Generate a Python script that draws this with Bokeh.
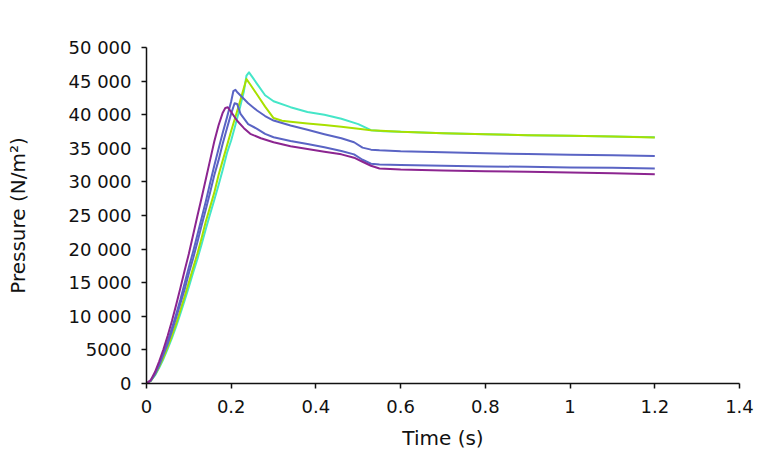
from bokeh.plotting import figure
from bokeh.models import FixedTicker, CustomJSTickFormatter, Range1d
from bokeh.embed import file_html
from bokeh.resources import INLINE

# ---- data ----
t_purple = [0, 0.01, 0.02, 0.03, 0.04, 0.05, 0.06, 0.07, 0.08, 0.09, 0.10, 0.11, 0.12, 0.13,
            0.14, 0.15, 0.16, 0.17, 0.18, 0.186, 0.192, 0.20, 0.214, 0.23, 0.245, 0.27, 0.30, 0.34,
            0.38, 0.42, 0.46, 0.49, 0.51, 0.53, 0.55, 0.60, 0.70, 0.80, 0.90, 1.00, 1.10, 1.20]
p_purple = [0, 500, 1700, 3300, 5100, 7100, 9300, 11700, 14200, 16800, 19300, 22100, 24900, 27600,
            30400, 33200, 36000, 38400, 40300, 41000, 41100, 40400, 39100, 38000, 37150, 36500, 35900, 35300,
            34900, 34500, 34100, 33600, 33000, 32400, 32000, 31850, 31700, 31600, 31500, 31400, 31300, 31150]

t_blue1 = [0, 0.01, 0.02, 0.03, 0.04, 0.05, 0.06, 0.07, 0.08, 0.09, 0.10, 0.11, 0.12, 0.13,
           0.14, 0.15, 0.16, 0.17, 0.18, 0.19, 0.20, 0.205, 0.21, 0.215, 0.222, 0.24, 0.261, 0.28, 0.30,
           0.34, 0.38, 0.42, 0.46, 0.49, 0.51, 0.53, 0.55, 0.60, 0.70, 0.80, 0.90, 1.00, 1.10, 1.20]
p_blue1 = [0, 450, 1450, 2900, 4500, 6300, 8200, 10300, 12500, 14900, 17300, 19600, 22100, 24600,
           27100, 29800, 32400, 34900, 37300, 39600, 42000, 43500, 43700, 43300, 42850, 41700, 40620, 39800, 39130,
           38400, 37750, 37100, 36500, 35900, 35100, 34800, 34700, 34550, 34400, 34250, 34150, 34050, 33950, 33850]

t_blue2 = [0, 0.01, 0.02, 0.03, 0.04, 0.05, 0.06, 0.07, 0.08, 0.09, 0.10, 0.11, 0.12, 0.13,
           0.14, 0.15, 0.16, 0.17, 0.18, 0.19, 0.20, 0.208, 0.214, 0.222, 0.24, 0.261, 0.28, 0.30,
           0.34, 0.38, 0.42, 0.46, 0.49, 0.51, 0.53, 0.55, 0.60, 0.70, 0.80, 0.90, 1.00, 1.10, 1.20]
p_blue2 = [0, 430, 1400, 2700, 4300, 5900, 7800, 9800, 11900, 14000, 16400, 18600, 21000, 23500,
           25900, 28400, 31000, 33200, 35700, 38000, 40200, 41700, 41600, 40120, 38600, 37900, 37150, 36650,
           36100, 35650, 35150, 34600, 34100, 33300, 32700, 32600, 32500, 32400, 32300, 32250, 32150, 32100, 32000]

t_green = [0, 0.01, 0.02, 0.03, 0.04, 0.05, 0.06, 0.07, 0.08, 0.09, 0.10, 0.11, 0.12, 0.13,
           0.14, 0.15, 0.16, 0.17, 0.18, 0.19, 0.20, 0.21, 0.22, 0.23, 0.236, 0.245, 0.261, 0.28,
           0.30, 0.32, 0.34, 0.38, 0.42, 0.46, 0.50, 0.53, 0.60, 0.70, 0.80, 0.90, 1.00, 1.10, 1.20]
p_green = [0, 400, 1300, 2500, 3850, 5450, 7100, 8900, 10900, 12950, 15050, 17200, 19300, 21600,
           24100, 26250, 28400, 31000, 33200, 35400, 37600, 39700, 41800, 44000, 45300, 44500, 43000, 41200,
           39500, 39100, 38950, 38700, 38450, 38200, 37900, 37700, 37450, 37250, 37100, 36950, 36850, 36750, 36600]

t_cyan = [0, 0.01, 0.02, 0.03, 0.04, 0.05, 0.06, 0.07, 0.08, 0.09, 0.10, 0.11, 0.12, 0.13,
          0.14, 0.15, 0.16, 0.17, 0.18, 0.19, 0.20, 0.21, 0.22, 0.23, 0.236, 0.242, 0.25, 0.261, 0.28,
          0.30, 0.34, 0.38, 0.42, 0.46, 0.50, 0.53, 0.56, 0.60, 0.70, 0.80, 0.90, 1.00, 1.10, 1.20]
p_cyan = [0, 380, 1200, 2350, 3650, 5150, 6750, 8500, 10400, 12350, 14350, 16500, 18500, 20700,
          23000, 25200, 27300, 29500, 31800, 34300, 36200, 38500, 40900, 43500, 45800, 46300, 45600, 44590, 42900,
          42000, 41120, 40400, 40000, 39400, 38600, 37700, 37550, 37450, 37250, 37100, 36950, 36850, 36750, 36650]

x_ticks = [0, 0.2, 0.4, 0.6, 0.8, 1.0, 1.2, 1.4]
y_ticks = [0, 5000, 10000, 15000, 20000, 25000, 30000, 35000, 40000, 45000, 50000]

series = [
    (t_cyan, p_cyan, "#45e6c8"),
    (t_green, p_green, "#a8e000"),
    (t_blue1, p_blue1, "#5a64c4"),
    (t_blue2, p_blue2, "#5a64c4"),
    (t_purple, p_purple, "#8c2590"),
]

p = figure(width=760, height=453, output_backend="svg", toolbar_location=None,
           x_range=Range1d(0, 1.4), y_range=Range1d(0, 50000),
           min_border_left=146, min_border_right=21, min_border_top=47, min_border_bottom=70)
p.outline_line_color = None
p.background_fill_color = "white"
p.border_fill_color = "white"
p.xgrid.visible = False
p.ygrid.visible = False

for tx, py, c in series:
    p.line(tx, py, line_color=c, line_width=2, line_join="round")

font = "DejaVu Sans"
for ax in (p.xaxis[0], p.yaxis[0]):
    ax.axis_line_color = "#111111"
    ax.axis_line_width = 1.5
    ax.major_tick_line_color = "#111111"
    ax.major_tick_line_width = 1.5
    ax.major_tick_in = 0
    ax.major_tick_out = 5
    ax.minor_tick_line_color = None
    ax.major_label_text_font = font
    ax.major_label_text_font_size = "18px"
    ax.major_label_text_color = "#111111"
    ax.axis_label_text_font = font
    ax.axis_label_text_font_size = "20px"
    ax.axis_label_text_font_style = "normal"
    ax.axis_label_text_color = "#111111"

p.xaxis[0].ticker = FixedTicker(ticks=x_ticks)
p.yaxis[0].ticker = FixedTicker(ticks=y_ticks)
p.xaxis[0].formatter = CustomJSTickFormatter(code="return String(Math.round(tick*10)/10);")
p.yaxis[0].formatter = CustomJSTickFormatter(code="""
const v = Math.round(tick);
if (v >= 10000) { const s = String(v); return s.slice(0, s.length-3) + ' ' + s.slice(-3); }
return String(v);
""")
p.xaxis[0].axis_label = "Time (s)"
p.yaxis[0].axis_label = "Pressure (N/m\u00b2)"
p.xaxis[0].major_label_standoff = 11
p.yaxis[0].major_label_standoff = 10
p.xaxis[0].axis_label_standoff = 10
p.yaxis[0].axis_label_standoff = 36

open("out.html", "w").write(file_html(p, INLINE))
